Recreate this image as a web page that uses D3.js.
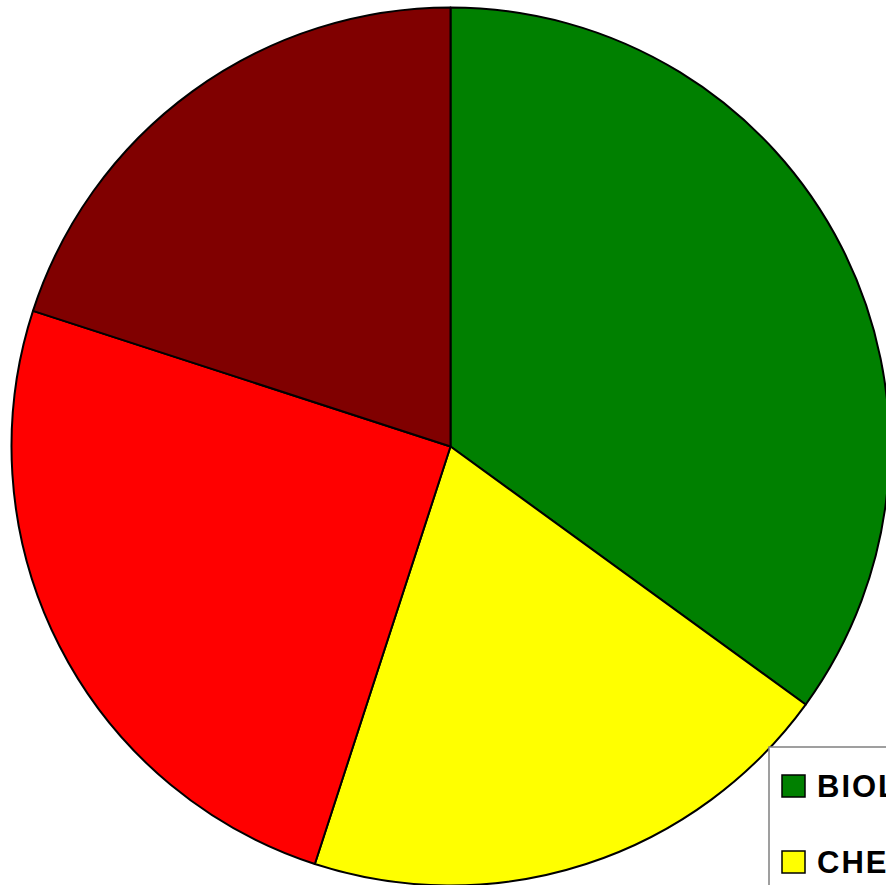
<!DOCTYPE html>
<html>
<head>
<meta charset="utf-8">
<script src="https://cdn.jsdelivr.net/npm/d3@7"></script>
<style>
  html, body { margin: 0; padding: 0; background: #fff; overflow: hidden; }
</style>
</head>
<body>
<div id="chart"></div>
<script>
// data
const categories = ["BIOLOGY", "CHEMISTRY", "PHYSICS", "MATHEMATICS"];
const values = [35, 20, 25, 20];
const colors = ["#008000", "#ffff00", "#ff0000", "#800000"];

const width = 886, height = 885;
const cx = 450.5, cy = 446.5, radius = 439;

const svg = d3.select("#chart")
  .append("svg")
  .attr("width", width)
  .attr("height", height);

const data = categories.map((c, i) => ({ name: c, value: values[i], color: colors[i] }));

// pie, clockwise from 12 o'clock, keep order
const pie = d3.pie()
  .sort(null)
  .value(d => d.value);

const arc = d3.arc()
  .innerRadius(0)
  .outerRadius(radius);

const g = svg.append("g")
  .attr("transform", `translate(${cx},${cy})`);

g.selectAll("path")
  .data(pie(data))
  .join("path")
  .attr("d", arc)
  .attr("fill", d => d.data.color)
  .attr("stroke", "#000")
  .attr("stroke-width", 2)
  .attr("stroke-linejoin", "round");

// legend (runs off the right/bottom edge)
const legend = svg.append("g")
  .attr("transform", "translate(769,747)");

legend.append("rect")
  .attr("x", 0)
  .attr("y", 0)
  .attr("width", 300)
  .attr("height", 330)
  .attr("fill", "#fff")
  .attr("stroke", "#808080")
  .attr("stroke-width", 1.5);

const items = legend.selectAll("g.item")
  .data(data)
  .join("g")
  .attr("class", "item")
  .attr("transform", (d, i) => `translate(13,${28 + i * 76})`);

items.append("rect")
  .attr("width", 23)
  .attr("height", 22)
  .attr("fill", d => d.color)
  .attr("stroke", "#000")
  .attr("stroke-width", 1.5);

items.append("text")
  .attr("x", 35)
  .attr("y", 22)
  .attr("font-family", "Liberation Sans, Arial, sans-serif")
  .attr("font-weight", "bold")
  .attr("font-size", 31)
  .attr("letter-spacing", 2)
  .attr("fill", "#000")
  .text(d => d.name);
</script>
</body>
</html>
